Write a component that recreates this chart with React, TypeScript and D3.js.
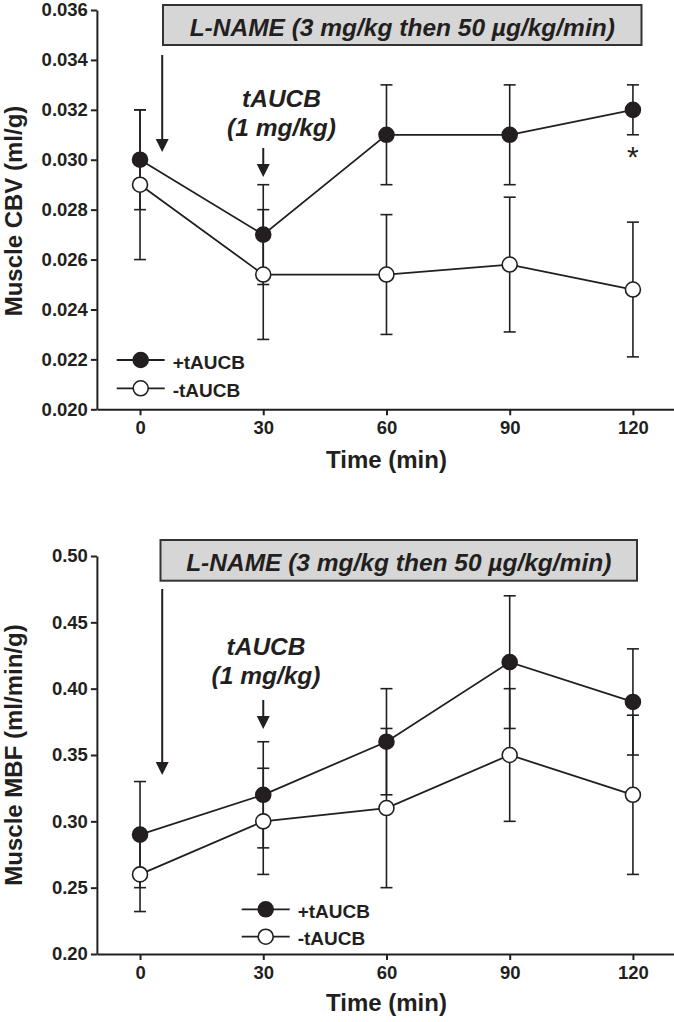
import React, { useEffect, useRef } from 'react';
import * as d3 from 'd3';

const W = 674;
const H = 1022;

const times = [0, 30, 60, 90, 120];

// top panel: muscle CBV
const cbvPlus = [0.03, 0.027, 0.031, 0.031, 0.032];
const cbvPlusErr = [0.002, 0.002, 0.002, 0.002, 0.001];
const cbvMinus = [0.029, 0.0254, 0.0254, 0.0258, 0.0248];
const cbvMinusErr = [0.003, 0.0026, 0.0024, 0.0027, 0.0027];
const cbvTicks = [0.02, 0.022, 0.024, 0.026, 0.028, 0.03, 0.032, 0.034, 0.036];

// bottom panel: muscle MBF
const mbfPlus = [0.29, 0.32, 0.36, 0.42, 0.39];
const mbfPlusErr = [0.04, 0.04, 0.04, 0.05, 0.04];
const mbfMinus = [0.26, 0.3, 0.31, 0.35, 0.32];
const mbfMinusErr = [0.028, 0.04, 0.06, 0.05, 0.06];
const mbfTicks = [0.2, 0.25, 0.3, 0.35, 0.4, 0.45, 0.5];

const seriesNames = ['+tAUCB', '-tAUCB'];
const boxLabel = 'L-NAME (3 mg/kg then 50 \u00b5g/kg/min)';

const FONT = '"Liberation Sans", Arial, Helvetica, sans-serif';
const INK = '#231f20';

export default function App() {
  const ref = useRef<SVGSVGElement>(null);

  useEffect(() => {
    const svg = d3.select(ref.current);
    svg.selectAll('*').remove();

    const x = d3.scaleLinear().domain([-10.5, 130]).range([96.9, 674]);

    function panel(opts: any) {
      const y = d3.scaleLinear().domain(opts.domain).range(opts.range);
      const g = svg.append('g');
      const y0 = opts.range[0];

      // axes
      const xAxis = d3.axisBottom(x).tickValues(times).tickSize(6).tickSizeOuter(0).tickPadding(6);
      const yAxis = d3
        .axisLeft(y)
        .tickValues(opts.ticks)
        .tickSize(6)
        .tickSizeOuter(0)
        .tickPadding(3)
        .tickFormat(d3.format(opts.fmt));
      const gx = g.append('g').attr('transform', 'translate(0,' + y0 + ')').call(xAxis);
      const gy = g.append('g').attr('transform', 'translate(' + x.range()[0] + ',0)').call(yAxis);
      [gx, gy].forEach((a) => {
        a.select('.domain').attr('stroke', INK).attr('stroke-width', 2);
        a.selectAll('.tick line').attr('stroke', INK).attr('stroke-width', 2);
        a.selectAll('.tick text')
          .attr('fill', INK)
          .style('font-family', FONT)
          .style('font-size', '18.5px')
          .style('font-weight', 'bold');
      });

      g.append('text')
        .attr('x', x(60))
        .attr('y', opts.xTitleY)
        .attr('text-anchor', 'middle')
        .attr('fill', INK)
        .style('font-family', FONT)
        .style('font-size', '24px')
        .style('font-weight', 'bold')
        .text('Time (min)');
      g.append('text')
        .attr('transform', 'translate(22,' + opts.yTitleY + ') rotate(-90)')
        .attr('text-anchor', 'middle')
        .attr('fill', INK)
        .style('font-family', FONT)
        .style('font-size', '24px')
        .style('font-weight', 'bold')
        .text(opts.yTitle);

      // L-NAME box
      const bx = opts.box;
      g.append('rect')
        .attr('x', bx[0])
        .attr('y', bx[1])
        .attr('width', bx[2] - bx[0])
        .attr('height', bx[3] - bx[1])
        .attr('fill', '#d6d6d6')
        .attr('stroke', '#333')
        .attr('stroke-width', 2);
      g.append('text')
        .attr('x', (bx[0] + bx[2]) / 2)
        .attr('y', bx[1] + 31)
        .attr('text-anchor', 'middle')
        .attr('fill', INK)
        .style('font-family', FONT)
        .style('font-size', '24.5px')
        .style('font-weight', 'bold')
        .style('font-style', 'italic')
        .text(boxLabel);

      // arrows
      function arrow(px: number, ya: number, yb: number) {
        g.append('line')
          .attr('x1', px)
          .attr('x2', px)
          .attr('y1', ya)
          .attr('y2', yb - 10)
          .attr('stroke', INK)
          .attr('stroke-width', 2);
        g.append('path')
          .attr('d', `M${px - 6.5},${yb - 13}L${px + 6.5},${yb - 13}L${px},${yb}Z`)
          .attr('fill', INK);
      }
      arrow(x(5.4), opts.longArrow[0], opts.longArrow[1]);
      arrow(x(30), opts.shortArrow[0], opts.shortArrow[1]);

      const ann = g
        .append('text')
        .attr('text-anchor', 'middle')
        .attr('fill', INK)
        .style('font-family', FONT)
        .style('font-size', '24.5px')
        .style('font-weight', 'bold')
        .style('font-style', 'italic');
      ann.append('tspan').attr('x', opts.annX).attr('y', opts.annY[0]).text('tAUCB');
      ann.append('tspan').attr('x', opts.annX).attr('y', opts.annY[1]).text('(1 mg/kg)');

      // data
      const series = [
        { v: opts.minus, e: opts.minusErr, fill: '#fff' },
        { v: opts.plus, e: opts.plusErr, fill: INK },
      ];
      const cap = 6;
      series.forEach((s) => {
        times.forEach((t, i) => {
          const px = x(t);
          const hi = y(s.v[i] + s.e[i]);
          const lo = y(s.v[i] - s.e[i]);
          g.append('line').attr('x1', px).attr('x2', px).attr('y1', hi).attr('y2', lo)
            .attr('stroke', INK).attr('stroke-width', 1.6);
          [hi, lo].forEach((yy) =>
            g.append('line').attr('x1', px - cap).attr('x2', px + cap).attr('y1', yy).attr('y2', yy)
              .attr('stroke', INK).attr('stroke-width', 1.6)
          );
        });
      });
      const line = d3
        .line<number>()
        .x((d, i) => x(times[i]))
        .y((d) => y(d));
      series.forEach((s) => {
        g.append('path').attr('d', line(s.v)).attr('fill', 'none').attr('stroke', INK).attr('stroke-width', 1.8);
      });
      series.forEach((s) => {
        g.selectAll(null)
          .data(s.v)
          .enter()
          .append('circle')
          .attr('cx', (d, i) => x(times[i]))
          .attr('cy', (d) => y(d))
          .attr('r', 7.5)
          .attr('fill', s.fill)
          .attr('stroke', INK)
          .attr('stroke-width', 1.6);
      });

      if (opts.star) {
        g.append('text')
          .attr('x', x(120))
          .attr('y', opts.star)
          .attr('text-anchor', 'middle')
          .attr('fill', INK)
          .style('font-family', FONT)
          .style('font-size', '30px')
          .text('*');
      }

      // legend
      const lg = opts.legend;
      [INK, '#fff'].forEach((fill, k) => {
        const ly = lg.y[k];
        g.append('line').attr('x1', lg.x - 24).attr('x2', lg.x + 24).attr('y1', ly).attr('y2', ly)
          .attr('stroke', INK).attr('stroke-width', 1.8);
        g.append('circle').attr('cx', lg.x).attr('cy', ly).attr('r', 7.5)
          .attr('fill', fill).attr('stroke', INK).attr('stroke-width', 1.6);
        g.append('text')
          .attr('x', lg.x + 32)
          .attr('y', ly + 8.5)
          .attr('fill', INK)
          .style('font-family', FONT)
          .style('font-size', '19px')
          .style('font-weight', 'bold')
          .text(seriesNames[k]);
      });
    }

    panel({
      domain: [0.02, 0.036],
      range: [409.3, 10],
      ticks: cbvTicks,
      fmt: '.3f',
      plus: cbvPlus,
      plusErr: cbvPlusErr,
      minus: cbvMinus,
      minusErr: cbvMinusErr,
      yTitle: 'Muscle CBV (ml/g)',
      yTitleY: 211,
      xTitleY: 468,
      box: [163, 5, 641.5, 45],
      longArrow: [55, 152],
      shortArrow: [148, 177],
      annX: 281.5,
      annY: [106.5, 136],
      star: 167,
      legend: { x: 140.7, y: [360, 388.3] },
    });

    panel({
      domain: [0.2, 0.5],
      range: [954, 556],
      ticks: mbfTicks,
      fmt: '.2f',
      plus: mbfPlus,
      plusErr: mbfPlusErr,
      minus: mbfMinus,
      minusErr: mbfMinusErr,
      yTitle: 'Muscle MBF (ml/min/g)',
      yTitleY: 755,
      xTitleY: 1011,
      box: [160.5, 540, 637, 580.7],
      longArrow: [589, 775],
      shortArrow: [700, 729],
      annX: 266,
      annY: [655, 684],
      star: 0,
      legend: { x: 265.7, y: [909.3, 936.7] },
    });
  }, []);

  return (
    <svg
      ref={ref}
      width={W}
      height={H}
      style={{ position: 'absolute', left: 0, top: 0, background: '#fff' }}
    />
  );
}
